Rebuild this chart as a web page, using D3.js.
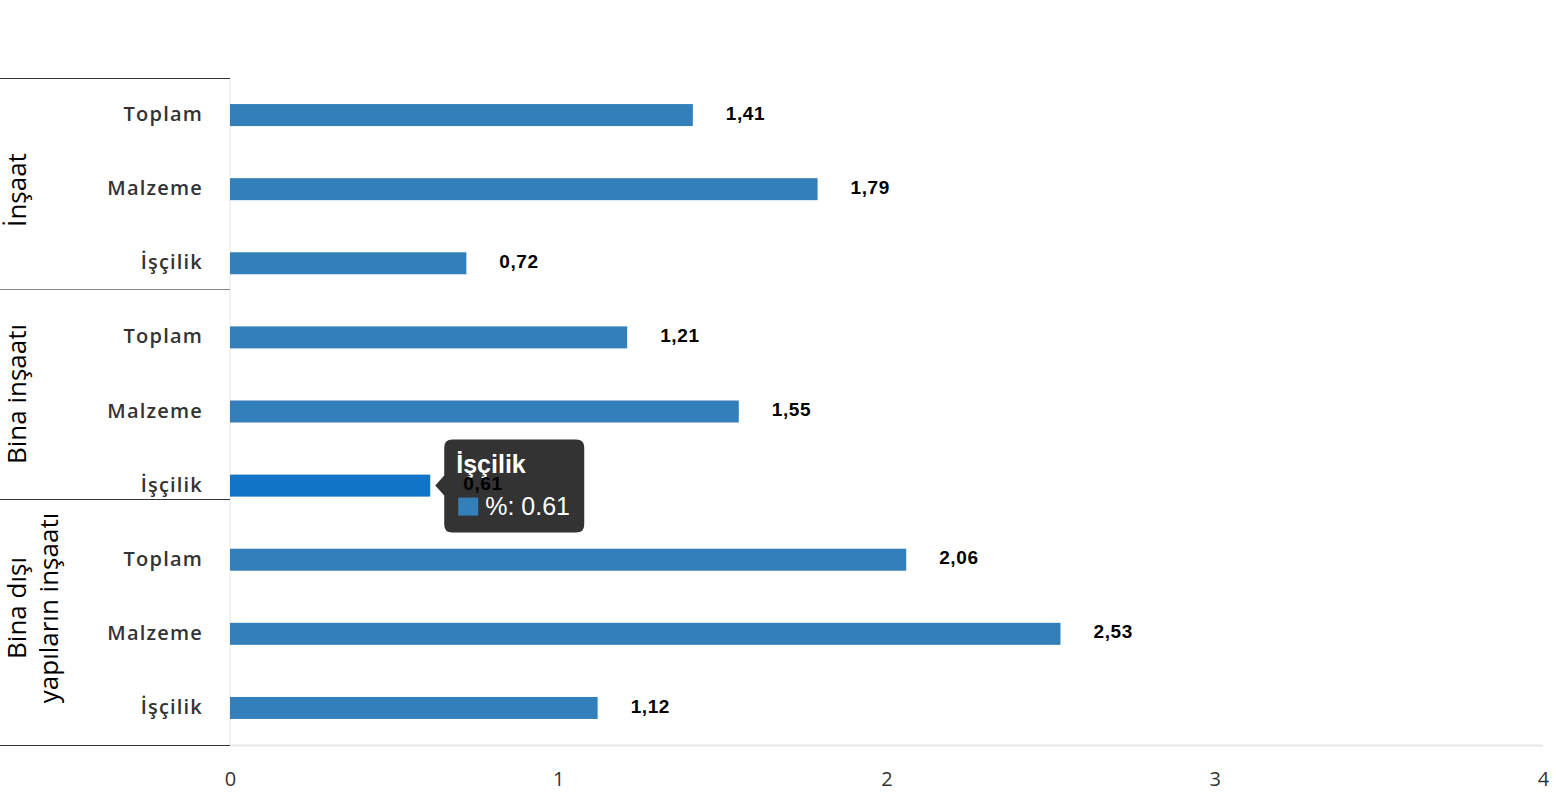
<!DOCTYPE html>
<html>
<head>
<meta charset="utf-8">
<script src="https://cdn.jsdelivr.net/npm/d3@7"></script>
<style>
  body { margin: 0; background: #fff; }
  svg { display: block; }
</style>
</head>
<body>
<div id="chart"></div>
<script>
// data
const groups = ["İnşaat", "Bina inşaatı", "Bina dışı yapıların inşaatı"];
const categories = ["Toplam", "Malzeme", "İşçilik"];
const values = [1.41, 1.79, 0.72, 1.21, 1.55, 0.61, 2.06, 2.53, 1.12];
const xTicks = [0, 1, 2, 3, 4];
const hoverIndex = 5;

var W = 1556, H = 800;
var margin = { top: 78, right: 13, bottom: 55, left: 230 };
var innerW = W - margin.left - margin.right,
    innerH = H - margin.top - margin.bottom;

var rows = [];
groups.forEach(function (g, gi) {
  categories.forEach(function (c, ci) {
    rows.push({ group: g, cat: c, value: values[gi * 3 + ci], i: gi * 3 + ci });
  });
});

var svg = d3.select("#chart").append("svg")
  .attr("width", W).attr("height", H);

var g = svg.append("g")
  .attr("transform", "translate(" + margin.left + "," + margin.top + ")");

var x = d3.scaleLinear().domain([0, 4]).range([0, innerW]);
var y = d3.scaleBand().domain(rows.map(function (d) { return d.i; }))
  .range([0, innerH]).paddingInner(0.7).paddingOuter(0.35);

// axis lines
g.append("line").attr("x1", 0).attr("x2", 0).attr("y1", 0).attr("y2", innerH)
  .attr("stroke", "#e6e6e6").attr("stroke-width", 1);
g.append("line").attr("x1", 0).attr("x2", innerW).attr("y1", innerH + 0.5).attr("y2", innerH + 0.5)
  .attr("stroke", "#e6e6e6").attr("stroke-width", 2);

// x axis labels
var xAxis = g.append("g").attr("transform", "translate(0," + innerH + ")")
  .call(d3.axisBottom(x).tickValues(xTicks).tickSize(0).tickPadding(27).tickFormat(d3.format("d")));
xAxis.select(".domain").remove();
xAxis.selectAll("text")
  .attr("font-family", "'Open Sans', sans-serif")
  .attr("font-size", 20).attr("fill", "#333");

// bars
var bh = 22;
g.selectAll("rect.bar").data(rows).enter().append("rect")
  .attr("class", "bar")
  .attr("x", 0)
  .attr("y", function (d) { return y(d.i) + y.bandwidth() / 2 - bh / 2; })
  .attr("width", function (d) { return x(d.value); })
  .attr("height", bh)
  .attr("fill", function (d) { return d.i === hoverIndex ? "#1174c7" : "#337fba"; });

// category labels
g.selectAll("text.cat").data(rows).enter().append("text")
  .attr("class", "cat")
  .attr("x", -27)
  .attr("y", function (d) { return y(d.i) + y.bandwidth() / 2 - 1; })
  .attr("dy", "0.35em")
  .attr("text-anchor", "end")
  .attr("font-family", "'Open Sans', sans-serif")
  .attr("font-size", 20)
  .attr("font-weight", 600)
  .attr("letter-spacing", 1.2)
  .attr("fill", "#333")
  .text(function (d) { return d.cat; });

// group separators & labels
var seps = [0, 211, 421, innerH];
var sepColors = ["#333", "#888", "#333", "#333"];
seps.forEach(function (s, k) {
  g.append("line").attr("x1", -margin.left).attr("x2", 0)
    .attr("y1", s + 0.5).attr("y2", s + 0.5)
    .attr("stroke", sepColors[k]).attr("stroke-width", 1.2);
});

var groupLines = [["İnşaat"], ["Bina inşaatı"], ["Bina dışı", "yapıların inşaatı"]];
var groupCenters = [112, 316, 530];
groupLines.forEach(function (lines, k) {
  var t = g.append("text")
    .attr("transform", "translate(" + (-margin.left + 26) + "," + groupCenters[k] + ") rotate(-90)")
    .attr("text-anchor", "middle")
    .attr("font-family", "'Open Sans', sans-serif")
    .attr("font-size", 26)
    .attr("fill", "#000");
  lines.forEach(function (l, j) {
    t.append("tspan").attr("x", 0)
      .attr("dy", j === 0 ? 0 : 32)
      .text(l);
  });
});

// tooltip
var hv = rows[hoverIndex];
var tx = x(hv.value) + 14, tyc = y(hv.i) + y.bandwidth() / 2;
var tip = g.append("g").attr("transform", "translate(" + tx + "," + (tyc - 46) + ")");
tip.append("path")
  .attr("d", "M8,0 H132 Q140,0 140,8 V85 Q140,93 132,93 H8 Q0,93 0,85 V56 L-9,46 L0,36 V8 Q0,0 8,0 Z")
  .attr("fill", "#333333");
tip.append("text").attr("x", 12).attr("y", 33)
  .attr("font-family", "'Liberation Sans', Arial, sans-serif")
  .attr("font-size", 25).attr("font-weight", "bold").attr("fill", "#fff")
  .text(hv.cat);
tip.append("rect").attr("x", 14).attr("y", 58).attr("width", 20).attr("height", 18)
  .attr("fill", "#337fba");
tip.append("text").attr("x", 41).attr("y", 75)
  .attr("font-family", "'Liberation Sans', Arial, sans-serif")
  .attr("font-size", 25).attr("fill", "#fff")
  .text("%: " + hv.value);

// value labels
var fmt = function (v) { return d3.format(".2f")(v).replace(".", ","); };
g.selectAll("text.val").data(rows).enter().append("text")
  .attr("class", "val")
  .attr("x", function (d) { return x(d.value) + 33; })
  .attr("y", function (d) { return y(d.i) + y.bandwidth() / 2 - 2; })
  .attr("dy", "0.35em")
  .attr("font-family", "'Liberation Sans', Arial, sans-serif")
  .attr("font-size", 19).attr("font-weight", "bold")
  .attr("letter-spacing", 0.6)
  .attr("fill", "#000")
  .text(function (d) { return fmt(d.value); });
</script>
</body>
</html>
